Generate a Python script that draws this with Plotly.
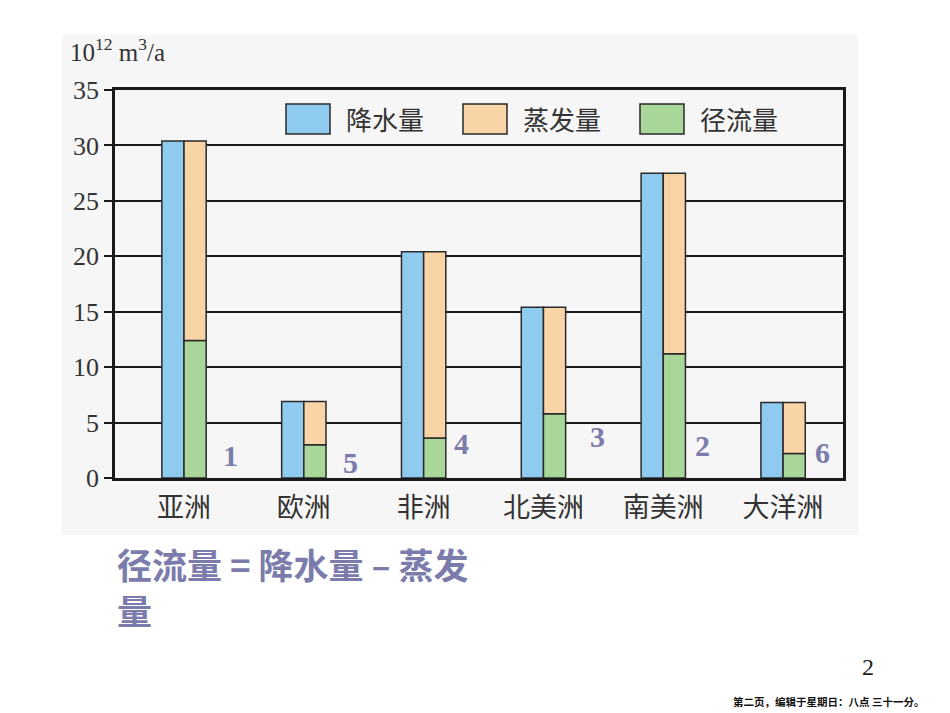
import plotly.graph_objects as go

categories = ["亚洲", "欧洲", "非洲", "北美洲", "南美洲", "大洋洲"]
precipitation = [30.4, 6.9, 20.4, 15.4, 27.5, 6.8]
runoff = [12.4, 3.0, 3.6, 5.8, 11.2, 2.2]
evaporation = [round(p - r, 2) for p, r in zip(precipitation, runoff)]
series_names = ["降水量", "蒸发量", "径流量"]
rank_labels = ["1", "5", "4", "3", "2", "6"]
y_ticks = [0, 5, 10, 15, 20, 25, 30, 35]

BLUE = "#8ecbee"
ORANGE = "#f9d4a7"
GREEN = "#a9d699"
EDGE = "#2a2a2a"
PANEL = "#f6f6f6"
PURPLE = "#7b7cab"

W = 0.185
fig = go.Figure()
fig.add_trace(go.Bar(x=categories, y=precipitation, offset=-W, width=W,
                     marker=dict(color=BLUE, line=dict(color=EDGE, width=1.5)),
                     name=series_names[0], showlegend=False))
fig.add_trace(go.Bar(x=categories, y=runoff, base=[0]*len(runoff), offset=0, width=W,
                     marker=dict(color=GREEN, line=dict(color=EDGE, width=1.5)),
                     name=series_names[2], showlegend=False))
fig.add_trace(go.Bar(x=categories, y=evaporation, base=runoff, offset=0, width=W,
                     marker=dict(color=ORANGE, line=dict(color=EDGE, width=1.5)),
                     name=series_names[1], showlegend=False))

shapes = []
annotations = []
# grey picture panel
shapes.append(dict(type="rect", xref="paper", yref="paper", layer="below",
                   x0=-53/728, x1=(858-115)/728, y0=(478-535)/388, y1=(478-35)/388,
                   fillcolor=PANEL, line=dict(width=0)))

# manual legend
leg_colors = [BLUE, ORANGE, GREEN]
leg_x = [286, 463, 640]
for name, col, lx in zip(series_names, leg_colors, leg_x):
    x0 = (lx - 115) / 728
    x1 = (lx + 44 - 115) / 728
    shapes.append(dict(type="rect", xref="paper", yref="paper",
                       x0=x0, x1=x1, y0=(478-134)/388, y1=(478-104)/388,
                       fillcolor=col, line=dict(color=EDGE, width=1.5)))
    annotations.append(dict(text=name, xref="paper", yref="paper",
                            x=(lx + 58 - 115) / 728, y=(478-119)/388,
                            xanchor="left", yanchor="middle", showarrow=False,
                            font=dict(family="Noto Sans CJK SC", size=26, color="#333")))

# rank labels next to bars
rank_dx = [0.39, 0.39, 0.32, 0.45, 0.33, 0.33]
rank_y = [2.05, 1.4, 3.1, 3.7, 2.9, 2.3]
for i, (lab, dx, yy) in enumerate(zip(rank_labels, rank_dx, rank_y)):
    annotations.append(dict(text="<b>" + lab + "</b>", x=i + dx, y=yy, xref="x", yref="y",
                            showarrow=False, xanchor="center", yanchor="middle",
                            font=dict(family="Liberation Serif", size=30, color=PURPLE)))

# unit label
annotations.append(dict(text="10<sup>12</sup> m<sup>3</sup>/a", xref="paper", yref="paper",
                        x=(68-115)/728, y=(478-50)/388, xanchor="left", yanchor="middle",
                        showarrow=False,
                        font=dict(family="Liberation Serif", size=25, color="#333")))

# formula text (two lines)
annotations.append(dict(text="<b>径流量 = 降水量 – 蒸发</b>", xref="paper", yref="paper",
                        x=(115-115)/728, y=(478-563)/388, xanchor="left", yanchor="middle",
                        showarrow=False,
                        font=dict(family="Noto Sans CJK SC", size=35, color=PURPLE)))
annotations.append(dict(text="<b>量</b>", xref="paper", yref="paper",
                        x=(115-115)/728, y=(478-609)/388, xanchor="left", yanchor="middle",
                        showarrow=False,
                        font=dict(family="Noto Sans CJK SC", size=35, color=PURPLE)))

# page number and footer
annotations.append(dict(text="2", xref="paper", yref="paper",
                        x=(868-115)/728, y=(478-667)/388, xanchor="center", yanchor="middle",
                        showarrow=False,
                        font=dict(family="Liberation Serif", size=24, color="#222")))
annotations.append(dict(text="<b>第二页，编辑于星期日：八点 三十一分。</b>", xref="paper", yref="paper",
                        x=(828-115)/728, y=(478-701)/388, xanchor="center", yanchor="middle",
                        showarrow=False,
                        font=dict(family="Noto Sans CJK SC", size=10.5, color="#111")))

fig.update_layout(
    width=950, height=713, autosize=False,
    margin=dict(l=115, r=107, t=90, b=235, pad=0),
    paper_bgcolor="white", plot_bgcolor=PANEL,
    barmode="overlay",
    shapes=shapes, annotations=annotations,
    showlegend=False,
)
fig.update_xaxes(range=[-0.576, 5.5], showgrid=False, showline=True, mirror=True,
                 linecolor="#1a1a1a", linewidth=2.5, ticks="",
                 tickfont=dict(family="Noto Sans CJK SC", size=27, color="#333"),
                 ticklabelstandoff=4)
fig.update_yaxes(range=[0, 35], tickvals=y_ticks, showgrid=True, gridcolor="#1a1a1a",
                 gridwidth=2, showline=True, mirror=True, linecolor="#1a1a1a", linewidth=2.5,
                 ticks="outside", ticklen=8, tickwidth=2, tickcolor="#1a1a1a",
                 zeroline=False,
                 tickfont=dict(family="Liberation Serif", size=26, color="#333"))

fig.write_html("out.html")
